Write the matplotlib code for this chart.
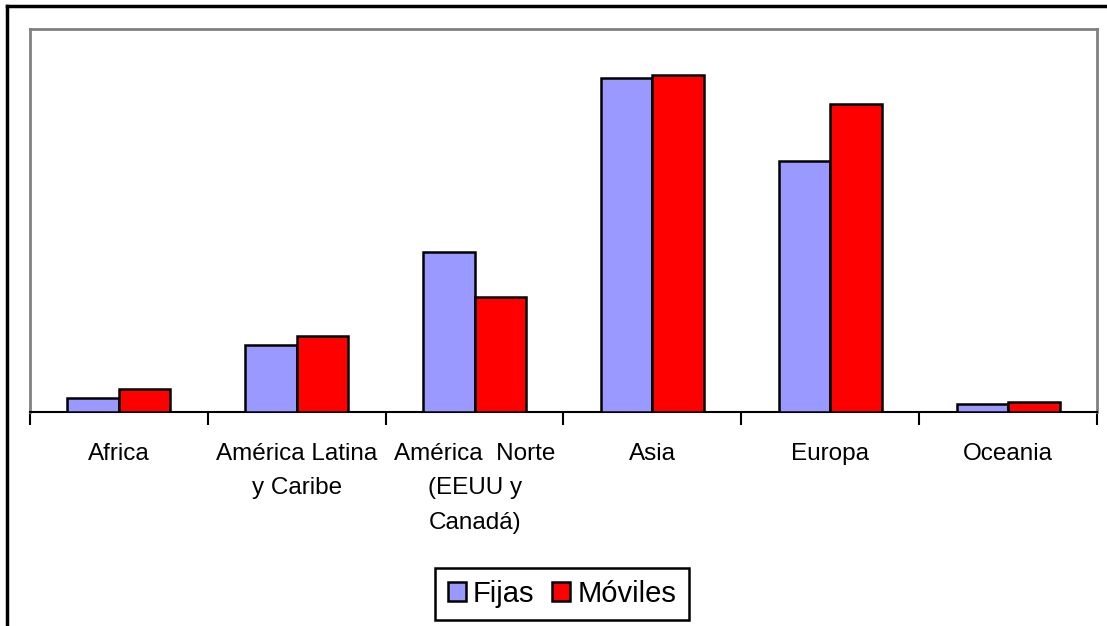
import matplotlib
matplotlib.use("Agg")
import matplotlib.pyplot as plt
from matplotlib.lines import Line2D
import numpy as np

plt.rcParams['font.family'] = ['Liberation Sans', 'DejaVu Sans']

regiones = ["Africa", "América Latina\ny Caribe", "América  Norte\n(EEUU y\nCanadá)",
            "Asia", "Europa", "Oceania"]
fijas = [14, 67, 160, 334, 251, 8]
moviles = [23, 76, 115, 337, 308, 10]

COLOR_FIJAS = '#9999FF'
COLOR_MOVILES = '#FF0000'

fig = plt.figure(figsize=(11.07, 6.26), dpi=100, facecolor='white')
ax = fig.add_axes([30 / 1107, 1 - 412 / 626, 1067 / 1107, 383 / 626])

x = np.arange(len(regiones))
w = 0.29
ax.bar(x - w / 2, fijas, w, color=COLOR_FIJAS, edgecolor='black', linewidth=1.8,
       label='Fijas', zorder=3)
ax.bar(x + w / 2, moviles, w, color=COLOR_MOVILES, edgecolor='black', linewidth=1.8,
       label='Móviles', zorder=3)

ax.set_xlim(-0.5, len(regiones) - 0.5)
ax.set_ylim(0, 383)
ax.set_yticks([])

# category labels centred, tick marks on the boundaries
ax.set_xticks(x)
ax.set_xticklabels(regiones, fontsize=17.5, linespacing=1.76, va='top')
ax.tick_params(axis='x', which='major', length=0, pad=22)
ax.set_xticks(np.arange(-0.5, len(regiones)), minor=True)
ax.tick_params(axis='x', which='minor', length=9, width=1.5, color='black')

for side in ['left', 'top', 'right']:
    ax.spines[side].set_color('#808080')
    ax.spines[side].set_linewidth(2)
ax.spines['bottom'].set_color('black')
ax.spines['bottom'].set_linewidth(1.5)

leg = fig.legend(loc='center', bbox_to_anchor=(562 / 1107, 1 - 594 / 626), ncol=2,
                 fontsize=21, handlelength=0.62, handleheight=0.62, handletextpad=0.25,
                 columnspacing=0.6, borderpad=0.42, fancybox=False, framealpha=1,
                 edgecolor='black')
leg.get_frame().set_linewidth(1.8)

# outer frame of the chart area
fig.add_artist(Line2D([7 / 1107, 7 / 1107], [0, 1 - 6 / 626], transform=fig.transFigure,
                      color='black', linewidth=2.5))
fig.add_artist(Line2D([7 / 1107, 1], [1 - 6 / 626, 1 - 6 / 626], transform=fig.transFigure,
                      color='black', linewidth=2.5))

fig.savefig('out.png', dpi=100, facecolor='white')
